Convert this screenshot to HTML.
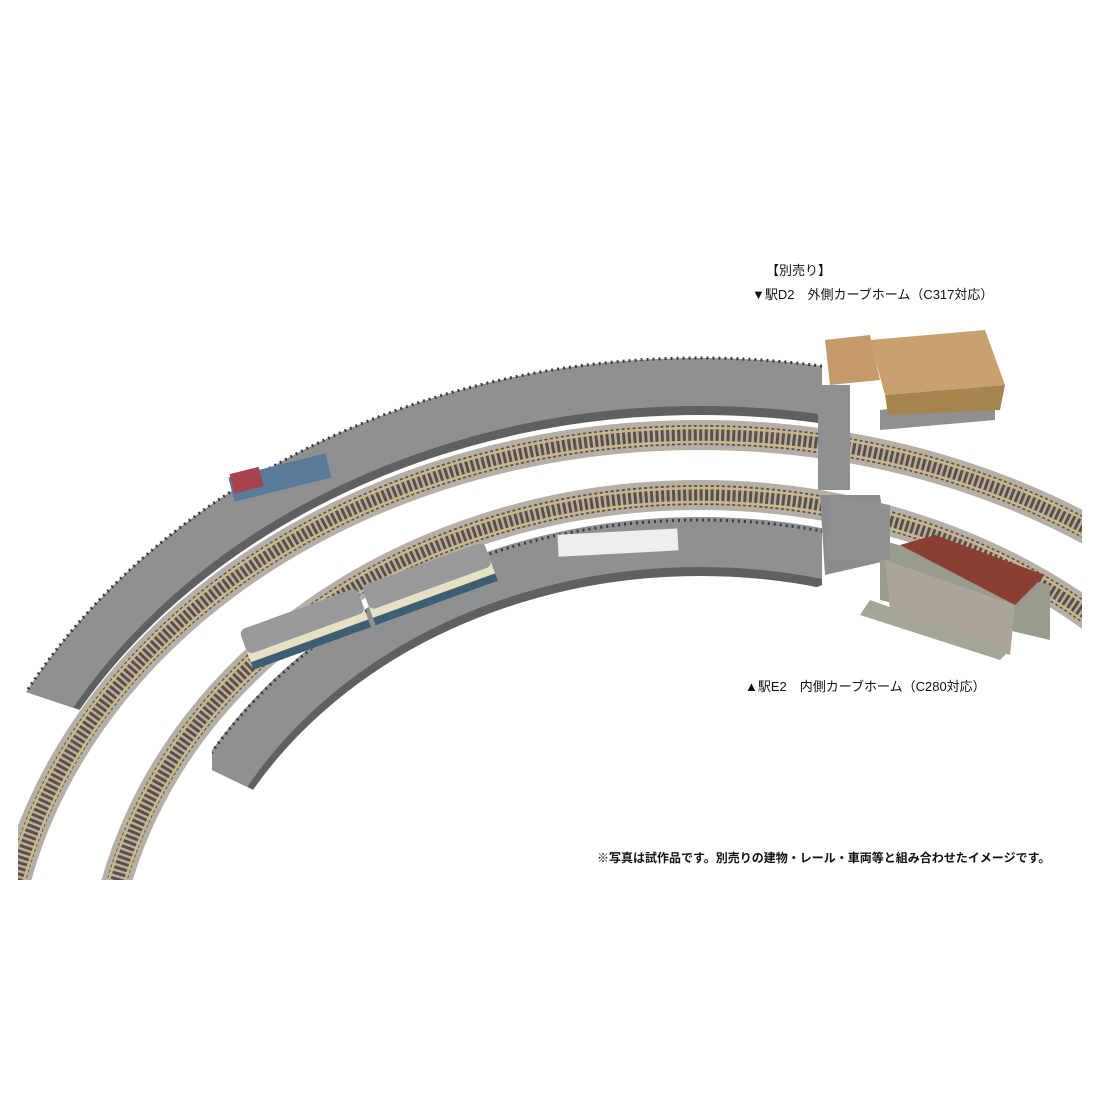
<!DOCTYPE html>
<html style="overflow:hidden;width:1100px;height:1100px"><head><meta charset="utf-8"><style>
html,body{margin:0;padding:0;background:#fff;}
body{width:1100px;height:1100px;position:relative;overflow:hidden;font-family:"Liberation Sans","Noto Sans CJK JP",sans-serif;}
svg{display:block}
.t{position:absolute;font-size:13px;color:#111;white-space:nowrap;}
</style></head><body>
<svg width="1100" height="1100" viewBox="0 0 1100 1100" style="position:absolute;left:0;top:0">
<defs>
<clipPath id="op"><polygon points="20,0 822,0 822,440 110,720 20,690"/></clipPath>
<clipPath id="ip"><polygon points="212,0 822,0 822,585 295,810 212,770"/></clipPath>
<clipPath id="tr"><polygon points="18,0 1082,0 1082,880 18,880"/></clipPath>
<clipPath id="tr2"><polygon points="100,470 1082,470 1082,880 100,880"/></clipPath>
</defs>
<g fill="none">
<g clip-path="url(#op)">
<path d="M-44,1006 A744,618 0 0 1 1444,1006" stroke="#5f6062" stroke-width="54"/>
<path d="M-44,1000 A744,618 0 0 1 1444,1000" stroke="#8e9092" stroke-width="48"/>
<path d="M-68,1000 A768,642 0 0 1 1468,1000" stroke="#3a3a3a" stroke-width="3" stroke-dasharray="2 4"/>
</g>
<g clip-path="url(#tr)">
<path d="M0,1000 A700,565 0 0 1 1400,1000" stroke="#b5afa6" stroke-width="30"/>
<path d="M0,1000 A700,565 0 0 1 1400,1000" stroke="#5e4f42" stroke-width="20" stroke-dasharray="3 2.5"/>
<path d="M8,1000 A692,558 0 0 1 1392,1000" stroke="#c9b98a" stroke-width="2.5"/>
<path d="M-8,1000 A708,572 0 0 1 1408,1000" stroke="#c9b98a" stroke-width="2.5"/>
</g>
<g clip-path="url(#ip)">
<path d="M155,1006 A545,458 0 0 1 1245,1006" stroke="#5f6062" stroke-width="56"/>
<path d="M155,1000 A545,458 0 0 1 1245,1000" stroke="#8e9092" stroke-width="50"/>
<path d="M130,1000 A570,480 0 0 1 1270,1000" stroke="#3a3a3a" stroke-width="3" stroke-dasharray="2 4"/>
</g>
<g clip-path="url(#tr2)">
<path d="M100,1000 A600,505 0 0 1 1300,1000" stroke="#b5afa6" stroke-width="30"/>
<path d="M100,1000 A600,505 0 0 1 1300,1000" stroke="#5e4f42" stroke-width="20" stroke-dasharray="3 2.5"/>
<path d="M108,1000 A592,498 0 0 1 1292,1000" stroke="#c9b98a" stroke-width="2.5"/>
<path d="M92,1000 A608,512 0 0 1 1308,1000" stroke="#c9b98a" stroke-width="2.5"/>
</g>
</g>
<polygon points="818,385 850,385 850,490 818,490" fill="#8e9092"/>
<polygon points="820,495 880,495 890,560 825,575" fill="#8a8c8e"/>
<polygon points="880,410 995,395 995,420 880,430" fill="#8e9092"/>
<polygon points="825,340 870,335 880,380 830,385" fill="#c49a6a"/>
<polygon points="870,340 985,330 1005,385 885,395" fill="#c9a070"/>
<polygon points="885,395 1005,385 1000,410 888,415" fill="#a8854e"/>
<polygon points="880,540 1050,585 1050,640 880,600" fill="#9a9a8e"/>
<polygon points="830,495 890,505 890,560 825,560" fill="#909090"/>
<polygon points="900,545 935,535 1045,575 1015,605" fill="#8a3e34"/>
<polygon points="885,560 1015,605 1010,655 890,610" fill="#aaa596"/>
<polygon points="870,600 1010,650 1000,660 860,615" fill="#a6a59a"/>
<rect x="230" y="465" width="100" height="25" fill="#5a7a9a" transform="rotate(-14 280 478)"/>
<rect x="232" y="462" width="30" height="20" fill="#a8424c" transform="rotate(-14 280 478)"/>
<rect x="558" y="532" width="120" height="22" fill="#eeeeee" transform="rotate(-3 610 543)"/>
<g transform="rotate(-20 350 590)">
<rect x="232" y="590" width="125" height="42" rx="6" fill="#e8e0c4"/>
<rect x="232" y="590" width="125" height="26" rx="6" fill="#98999a"/>
<rect x="232" y="624" width="125" height="8" fill="#3e5f73"/>
<rect x="362" y="590" width="130" height="42" rx="6" fill="#e8e0c4"/>
<rect x="362" y="590" width="130" height="26" rx="6" fill="#98999a"/>
<rect x="362" y="624" width="130" height="8" fill="#3e5f73"/>
</g>
</svg>
<div class="t" style="left:766px;top:260px;">【別売り】</div>
<div class="t" style="left:752px;top:284px;">▼駅D2　外側カーブホーム（C317対応）</div>
<div class="t" style="left:745px;top:676px;">▲駅E2　内側カーブホーム（C280対応）</div>
<div class="t" style="left:597px;top:849px;font-size:12px;font-weight:bold;">※写真は試作品です。別売りの建物・レール・車両等と組み合わせたイメージです。</div>
</body></html>
